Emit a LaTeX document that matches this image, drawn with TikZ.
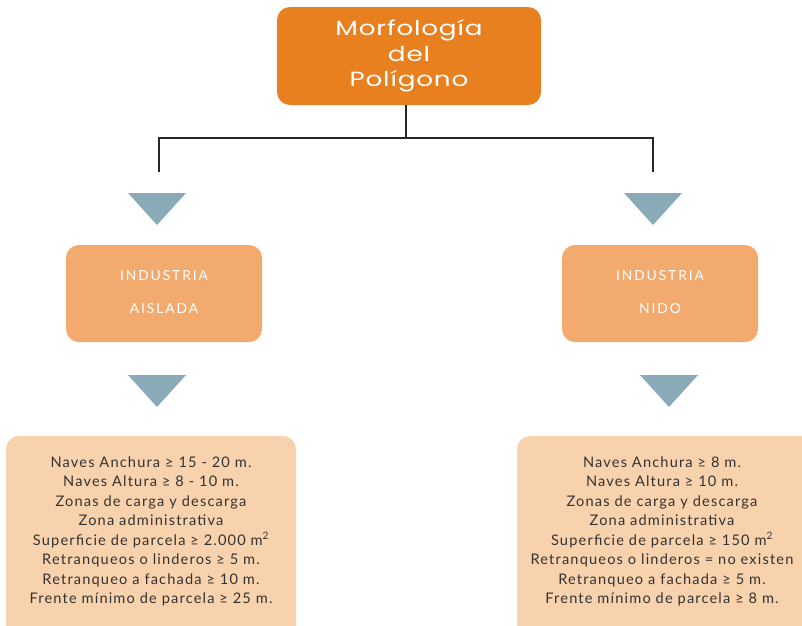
\documentclass[tikz,border=0pt]{standalone}
\usepackage{fontspec}
\setmainfont{Lato}
\newfontfamily\titlefont[FakeStretch=1.28]{Poppins}
\begin{document}
\begin{tikzpicture}[x=1pt,y=-1pt,
  topbox/.style={fill=topor, draw=none, rounded corners=13pt},
  midbox/.style={fill=midor, draw=none, rounded corners=13pt},
  lowbox/.style={fill=lowor, draw=none, rounded corners=13pt},
  tri/.style={fill=triblue, draw=none},
  conn/.style={draw=black!85, line width=1.6pt},
  bodytxt/.style={font=\fontsize{14.6}{19.45}\selectfont\addfontfeature{LetterSpace=8}, text=black!80, align=center},
  midtxt/.style={font=\fontsize{13.8}{15}\selectfont\addfontfeature{LetterSpace=14}, text=white},
]
\definecolor{topor}{HTML}{E8801F}
\definecolor{midor}{HTML}{F2AA6E}
\definecolor{lowor}{HTML}{F8D2AD}
\definecolor{triblue}{HTML}{8AAAB7}
\useasboundingbox (0,0) rectangle (802,625);

% top box
\path[topbox] (277,7) rectangle (541,105);
\node[font=\titlefont\fontsize{20.5}{25.5}\selectfont\addfontfeature{LetterSpace=4}, text=white, align=center] (top) at (409,56) {Morfología\\del\\Polígono};
\coordinate (tb) at (406,105);
\coordinate (mid) at (406,138);
\coordinate (lj) at (159,138);
\coordinate (rj) at (653,138);
\coordinate (le) at (159,172);
\coordinate (re) at (653,172);
\draw[conn] (tb) -- (mid);
\draw[conn] (le) -- (lj) -- (rj) -- (re);

% triangles
\path[tri] (128,193) -- (186,193) -- (157,225) -- cycle;
\path[tri] (624,193) -- (682,193) -- (653,225) -- cycle;
\path[tri] (128,375) -- (186,375) -- (157,407) -- cycle;
\path[tri] (640,375) -- (698,375) -- (669,407) -- cycle;

% mid boxes
\path[midbox] (66,245) rectangle (262,342);
\node[midtxt] (a1) at (164,276) {INDUSTRIA};
\node[midtxt] (a2) at (164,309) {AISLADA};
\path[midbox] (562,245) rectangle (758,342);
\node[midtxt] (n1) at (660,276) {INDUSTRIA};
\node[midtxt] (n2) at (660,309) {NIDO};

% low boxes
\path[lowbox] (6,436) rectangle (296,660);
\node[bodytxt, anchor=north] (la) at (151,453) {Naves Anchura ≥ 15 - 20 m.\\
Naves Altura ≥ 8 - 10 m.\\
Zonas de carga y descarga\\
Zona administrativa\\
Superficie de parcela ≥ 2.000 m\textsuperscript{2}\\
Retranqueos o linderos ≥ 5 m.\\
Retranqueo a fachada ≥ 10 m.\\
Frente mínimo de parcela ≥ 25 m.};
\path[lowbox] (517,436) rectangle (840,660);
\node[bodytxt, anchor=north] (ln) at (662,453) {Naves Anchura ≥ 8 m.\\
Naves Altura ≥ 10 m.\\
Zonas de carga y descarga\\
Zona administrativa\\
Superficie de parcela ≥ 150 m\textsuperscript{2}\\
Retranqueos o linderos = no existen\\
Retranqueo a fachada ≥ 5 m.\\
Frente mínimo de parcela ≥ 8 m.};
\end{tikzpicture}
\end{document}
